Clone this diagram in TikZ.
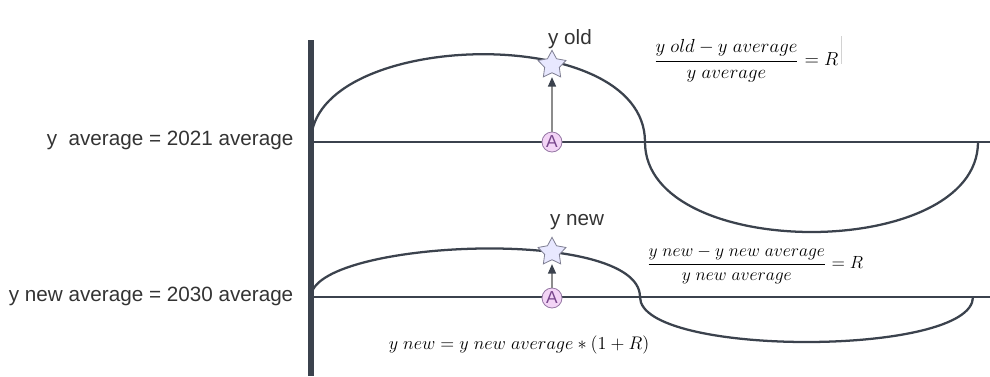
\documentclass[tikz,border=0pt]{standalone}
\usepackage{amsmath}
\usepackage{fontspec}
\setmainfont{Liberation Sans}
\usetikzlibrary{shapes.geometric, arrows.meta, positioning, calc}
\definecolor{slateline}{RGB}{59, 66, 77}
\definecolor{labelgray}{RGB}{51, 51, 51}
\definecolor{starfill}{RGB}{232, 232, 255}
\definecolor{starborder}{RGB}{125, 125, 145}
\definecolor{markfill}{RGB}{243, 212, 246}
\definecolor{markborder}{RGB}{150, 120, 165}
\definecolor{marktext}{RGB}{120, 70, 140}
\definecolor{arrowgray}{RGB}{140, 140, 140}

\begin{document}
\begin{tikzpicture}[x=0.75pt, y=-0.75pt,
  axisline/.style={line width=3.8pt, slateline},
  levelline/.style={line width=1.9pt, slateline},
  curveline/.style={line width=1.7pt, slateline},
  starnode/.style={star, star points=5, star point ratio=1.9, minimum size=22pt,
                   inner sep=0pt, draw=starborder, fill=starfill, line width=0.6pt},
  marknode/.style={circle, minimum size=15pt, inner sep=0pt, draw=markborder,
                   fill=markfill, text=marktext, font=\fontsize{13}{13}\selectfont, line width=0.6pt},
  riseline/.style={arrowgray, line width=0.8pt, shorten >=3pt,
                   -{Triangle[length=7pt, width=6pt, color=slateline]}},
  ylabel/.style={text=labelgray, font=\fontsize{15.5}{18}\selectfont},
  eqtext/.style={font=\fontsize{12}{15}\selectfont, transform shape}
]
  \useasboundingbox (0,0) rectangle (990,376);

  % ===== axis and the two levels =====
  \coordinate (axtop) at (311,40);
  \coordinate (axbot) at (311,376);
  \coordinate (lv1) at (311,142);
  \coordinate (lv1end) at (990,142);
  \coordinate (lv2) at (311,297);
  \coordinate (lv2end) at (990,297);

  \draw[levelline] (lv1) -- (lv1end);
  \draw[levelline] (lv2) -- (lv2end);
  \draw[axisline] (axtop) -- (axbot);

  % upper wave (2021)
  \draw[curveline] (lv1) .. controls (311,30) and (645,20) .. (645,142)
                         .. controls (645,262) and (978,262) .. (978,142);

  % lower wave (2030)
  \draw[curveline] (lv2) .. controls (311,240) and (640,225) .. (640,297)
                         .. controls (640,357) and (973,357) .. (973,297);

  % ===== left labels =====
  \node[ylabel, anchor=east] (avg1) at (298,140) {y\ \ average = 2021 average};
  \node[ylabel, anchor=east] (avg2) at (298,296) {y new average = 2030 average};

  % ===== points and arrows =====
  \node[marknode] (mark1) at (552,142) {A};
  \node[starnode] (star1) at (552,65) {};
  \node[ylabel] (old) at (570,39) {y old};
  \draw[riseline] (mark1) -- (star1);

  \node[marknode] (mark2) at (552,298) {A};
  \node[starnode] (star2) at (552,252) {};
  \node[ylabel] (new) at (577,222) {y new};
  \draw[riseline] (mark2) -- (star2);

  % ===== formulas =====
  \node[eqtext, scale=1.18] (ratio1) at (746,61)
    {$\dfrac{y\ old - y\ average}{y\ average} = R$};
  \draw[gray!35, thin] (841,36) -- (841,64);

  \node[eqtext, scale=1.1] (ratio2) at (755,265)
    {$\dfrac{y\ new - y\ new\ average}{y\ new\ average} = R$};

  \node[eqtext, scale=1.14] (newval) at (519,345)
    {$y\ new = y\ new\ average \ast (1 + R)$};

\end{tikzpicture}
\end{document}
